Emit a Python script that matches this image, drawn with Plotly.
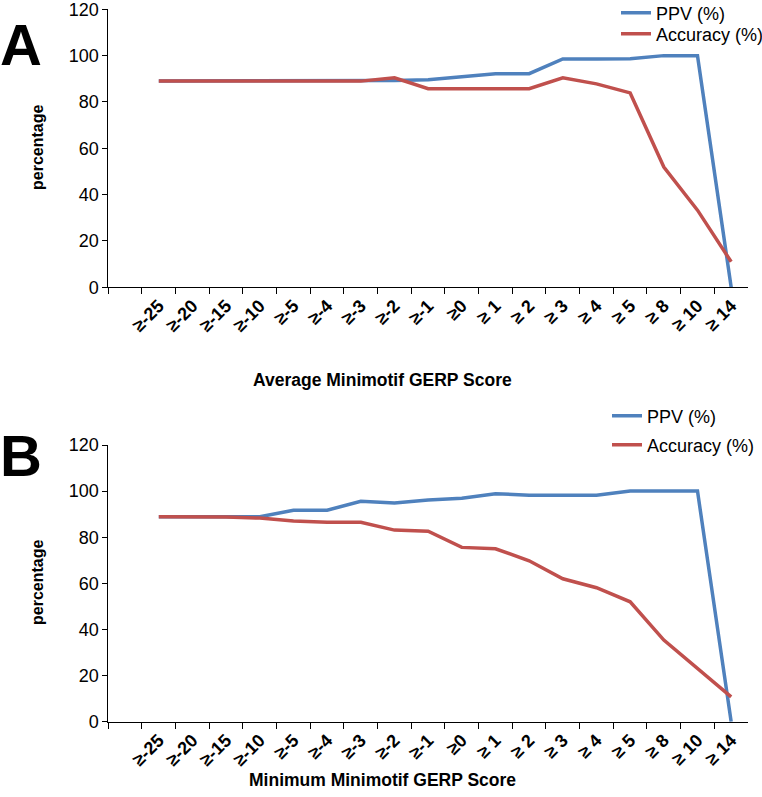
import plotly.graph_objects as go

categories = [" ", "≥-25", "≥-20", "≥-15", "≥-10", "≥-5", "≥-4", "≥-3", "≥-2", "≥-1",
              "≥0", "≥ 1", "≥ 2", "≥ 3", "≥ 4", "≥ 5", "≥ 8", "≥ 10", "≥ 14"]

ppv_avg = [None, 89, 89, 89, 89, 89, 89, 89, 89.3, 89.6, 91.0, 92.2, 92.2, 98.6, 98.6, 98.7, 100, 100, 0]
acc_avg = [None, 89, 89, 89, 89, 89, 89, 89, 90.4, 85.7, 85.7, 85.7, 85.7, 90.4, 87.8, 83.9, 51.9, 33.3, 11.0]

ppv_min = [None, 88.9, 88.9, 88.9, 88.9, 91.7, 91.7, 95.6, 94.8, 96.1, 96.9, 98.9, 98.2, 98.2, 98.2, 100, 100, 100, 0]
acc_min = [None, 88.9, 88.9, 88.8, 88.3, 87.0, 86.5, 86.5, 83.1, 82.6, 75.6, 75.0, 69.8, 62.0, 58.1, 52.0, 35.4, 23.0, 10.8]

y_ticks = [0, 20, 40, 60, 80, 100, 120]

BLUE = "#4F81BD"
RED = "#C0504D"
FONT = "Liberation Sans"
LW = 3.5

fig = go.Figure()
fig.add_trace(go.Scatter(x=categories, y=ppv_avg, mode="lines", name="PPV (%)",
                         line=dict(color=BLUE, width=LW), xaxis="x", yaxis="y", legend="legend"))
fig.add_trace(go.Scatter(x=categories, y=acc_avg, mode="lines", name="Accuracy (%)",
                         line=dict(color=RED, width=LW), xaxis="x", yaxis="y", legend="legend2"))
fig.add_trace(go.Scatter(x=categories, y=ppv_min, mode="lines", name="PPV (%)",
                         line=dict(color=BLUE, width=LW), xaxis="x2", yaxis="y2", legend="legend3"))
fig.add_trace(go.Scatter(x=categories, y=acc_min, mode="lines", name="Accuracy (%)",
                         line=dict(color=RED, width=LW), xaxis="x2", yaxis="y2", legend="legend4"))

W, H = 762, 797
def px_x(p):
    return p / W
def px_y(p):
    return (H - p) / H

xdom = [px_x(108.3), px_x(748)]
common_x = dict(type="category", categoryorder="array", categoryarray=categories,
                tickson="boundaries", ticks="outside", ticklen=6, tickcolor="black",
                showline=True, linecolor="black", linewidth=1, showgrid=False,
                tickangle=-45, tickfont=dict(family=FONT, size=18, color="black", weight="bold"),
                range=[-0.5, len(categories) - 0.5], zeroline=False, automargin=False,
                ticklabeloverflow="allow")
common_y = dict(range=[0, 120], tickvals=y_ticks, ticks="outside", ticklen=5, tickcolor="black",
                showline=True, linecolor="black", linewidth=1, showgrid=False, zeroline=False,
                tickfont=dict(family=FONT, size=18, color="black"), automargin=False,
                ticklabeloverflow="allow")

def leg(xp, yp):
    return dict(x=px_x(xp), y=px_y(yp), xanchor="left", yanchor="middle",
                bgcolor="rgba(0,0,0,0)", font=dict(family=FONT, size=18, color="black"),
                itemwidth=30, tracegroupgap=0)

fig.update_layout(
    width=W, height=H,
    margin=dict(l=0, r=0, t=0, b=0, autoexpand=False),
    paper_bgcolor="white", plot_bgcolor="white",
    font=dict(family=FONT, color="black"),
    xaxis=dict(domain=xdom, anchor="y", **common_x),
    yaxis=dict(domain=[px_y(287.3), px_y(9.3)], anchor="x", **common_y),
    xaxis2=dict(domain=xdom, anchor="y2", **common_x),
    yaxis2=dict(domain=[px_y(721.7), px_y(445)], anchor="x2", **common_y),
    legend=leg(616, 13),
    legend2=leg(616, 34),
    legend3=leg(607, 416),
    legend4=leg(607, 445),
    showlegend=True,
)

annots = [
    dict(text="<b>Average Minimotif GERP Score</b>", x=px_x(383), y=px_y(380), size=17.5, angle=0),
    dict(text="<b>Minimum Minimotif GERP Score</b>", x=px_x(383), y=px_y(780), size=17.5, angle=0),
    dict(text="<b>percentage</b>", x=px_x(37), y=px_y(148), size=16, angle=-90),
    dict(text="<b>percentage</b>", x=px_x(37), y=px_y(583), size=16, angle=-90),
    dict(text="<b>A</b>", x=px_x(21), y=px_y(44), size=58, angle=0),
    dict(text="<b>B</b>", x=px_x(21), y=px_y(455), size=58, angle=0),
]
for a in annots:
    fig.add_annotation(text=a["text"], x=a["x"], y=a["y"], xref="paper", yref="paper",
                       xanchor="center", yanchor="middle", showarrow=False, textangle=a["angle"],
                       font=dict(family=FONT, size=a["size"], color="black"))

fig.write_html("out.html", config={"displayModeBar": False},
               post_script="document.body.style.margin='0px';document.body.style.overflow='hidden';")
